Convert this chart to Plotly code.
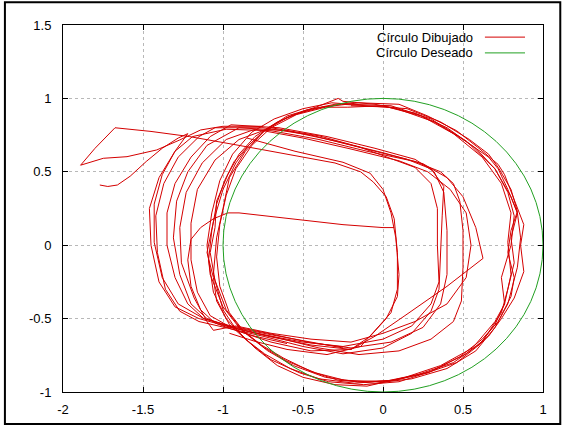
import plotly.graph_objects as go

# ---------------- data ----------------
x_tick_vals = [-2, -1.5, -1, -0.5, 0, 0.5, 1]
x_tick_text = ["-2", "-1.5", "-1", "-0.5", "0", "0.5", "1"]
y_tick_vals = [-1, -0.5, 0, 0.5, 1, 1.5]
y_tick_text = ["-1", "-0.5", "0", "0.5", "1", "1.5"]

series_names = ["Círculo Dibujado", "Círculo Deseado"]

# desired circle (centre, radius)
circle_center = (0.0, 0.0)
circle_radius = 1.0

# drawn trajectory, piece by piece
start_line = [(0.07, 0.12), (0.00, 0.12), (-0.25, 0.14), (-0.50, 0.17), (-0.75, 0.205),
              (-0.90, 0.22), (-0.97, 0.22), (-1.06, 0.18), (-1.14, 0.12), (-1.20, 0.04),
              (-1.22, -0.10), (-1.20, -0.28), (-1.14, -0.44), (-1.05, -0.53), (-0.95, -0.57),
              (-0.80, -0.62), (-0.60, -0.67)]

tip_loop = [(-0.75, 0.81), (-1.00, 0.81), (-1.14, 0.785), (-1.27, 0.717), (-1.414, 0.649),
            (-1.60, 0.603), (-1.748, 0.592), (-1.89, 0.545), (-1.80, 0.66), (-1.675, 0.80),
            (-1.45, 0.775), (-1.21, 0.74), (-0.90, 0.68), (-0.60, 0.62), (-0.30, 0.56),
            (-0.14, 0.50), (-0.06, 0.43), (0.02, 0.33), (0.07, 0.18), (0.09, -0.05),
            (0.09, -0.30), (0.05, -0.46), (-0.05, -0.58), (-0.14, -0.69), (-0.35, -0.745),
            (-0.60, -0.71), (-0.80, -0.655), (-0.96, -0.60)]

start_curl = [(-1.77, 0.41), (-1.72, 0.40), (-1.66, 0.41), (-1.58, 0.47), (-1.48, 0.57),
              (-1.38, 0.66), (-1.28, 0.73), (-1.22, 0.76), (-1.30, 0.64), (-1.38, 0.48),
              (-1.43, 0.28), (-1.43, 0.02), (-1.38, -0.22), (-1.28, -0.40), (-1.12, -0.50),
              (-0.95, -0.555), (-0.70, -0.61), (-0.45, -0.66), (-0.25, -0.70)]

inner_loop = [(-0.85, 0.73), (-0.55, 0.64), (-0.25, 0.565), (-0.08, 0.49), (0.00, 0.38),
              (0.05, 0.22), (0.08, 0.05), (0.10, -0.20), (0.09, -0.35), (0.02, -0.50),
              (-0.08, -0.62), (-0.20, -0.71), (-0.45, -0.72), (-0.70, -0.66), (-0.92, -0.58)]

outer_loop_1 = [(-1.19, 0.74), (-0.98, 0.79), (-0.70, 0.78), (-0.40, 0.72), (-0.10, 0.64),
                (0.20, 0.57), (0.36, 0.50), (0.44, 0.42), (0.48, 0.30), (0.50, 0.10),
                (0.50, -0.15), (0.49, -0.38), (0.44, -0.52), (0.30, -0.64), (0.10, -0.72),
                (-0.15, -0.745), (-0.40, -0.70), (-0.70, -0.62), (-0.95, -0.56), (-1.15, -0.50),
                (-1.30, -0.42), (-1.40, -0.25), (-1.45, 0.00), (-1.46, 0.25), (-1.40, 0.46),
                (-1.30, 0.64), (-1.19, 0.74)]

outer_loop_2 = [(-1.05, 0.80), (-0.75, 0.80), (-0.45, 0.75), (-0.15, 0.665), (0.15, 0.585),
                (0.30, 0.52), (0.38, 0.40), (0.37, 0.20), (0.36, -0.05), (0.35, -0.30),
                (0.30, -0.45), (0.18, -0.60), (0.00, -0.70), (-0.25, -0.74), (-0.50, -0.69),
                (-0.75, -0.62), (-0.95, -0.57), (-1.15, -0.52), (-1.27, -0.45), (-1.36, -0.30),
                (-1.41, -0.05), (-1.42, 0.20), (-1.37, 0.42), (-1.28, 0.60), (-1.15, 0.74),
                (-1.05, 0.80)]

outer_loop_3 = [(-0.95, 0.82), (-0.65, 0.80), (-0.35, 0.74), (-0.05, 0.66), (0.20, 0.585),
                (0.32, 0.50), (0.38, 0.36), (0.40, 0.10), (0.40, -0.20), (0.36, -0.40),
                (0.25, -0.56), (0.05, -0.66), (-0.20, -0.70), (-0.45, -0.665), (-0.72, -0.60),
                (-0.95, -0.55), (-1.12, -0.50), (-1.22, -0.40), (-1.30, -0.22), (-1.35, 0.00),
                (-1.35, 0.22), (-1.30, 0.42), (-1.20, 0.60), (-1.08, 0.74), (-0.95, 0.82)]

outer_loop_4 = [(-0.90, 0.80), (-0.60, 0.78), (-0.30, 0.71), (0.00, 0.63), (0.25, 0.555),
                (0.40, 0.46), (0.50, 0.33), (0.58, 0.12), (0.625, -0.09), (0.40, -0.28),
                (0.15, -0.47), (-0.05, -0.62), (-0.20, -0.71), (-0.45, -0.68), (-0.72, -0.62),
                (-0.95, -0.56), (-1.10, -0.50), (-1.20, -0.40), (-1.27, -0.20), (-1.31, 0.05),
                (-1.29, 0.30), (-1.22, 0.50), (-1.10, 0.68), (-0.90, 0.80)]

outer_loop_5 = [(-0.70, 0.80), (-0.40, 0.745), (-0.15, 0.67), (0.05, 0.59), (0.20, 0.53),
                (0.30, 0.42), (0.34, 0.25), (0.34, 0.00), (0.35, -0.25), (0.30, -0.40),
                (0.18, -0.55), (0.00, -0.64), (-0.25, -0.69), (-0.50, -0.66), (-0.75, -0.61),
                (-0.95, -0.56), (-1.08, -0.48), (-1.16, -0.32), (-1.20, -0.10), (-1.20, 0.15),
                (-1.16, 0.38), (-1.05, 0.58), (-0.90, 0.72), (-0.70, 0.80)]

outer_loop_6 = [(-0.80, 0.79), (-0.50, 0.73), (-0.20, 0.655), (0.10, 0.575), (0.28, 0.50),
                (0.42, 0.38), (0.52, 0.22), (0.55, 0.00), (0.52, -0.22), (0.40, -0.40),
                (0.20, -0.52), (0.00, -0.60), (-0.20, -0.66), (-0.45, -0.64), (-0.70, -0.60),
                (-0.92, -0.55), (-1.06, -0.58), (-1.10, -0.52), (-1.18, -0.36), (-1.26, -0.12),
                (-1.27, 0.12), (-1.23, 0.36), (-1.13, 0.56), (-0.98, 0.72), (-0.80, 0.79)]

main_loop_1 = [(-0.20, 0.96), (0.05, 0.95), (0.30, 0.86), (0.52, 0.71), (0.70, 0.52),
               (0.80, 0.33), (0.84, 0.22), (0.86, 0.05), (0.84, -0.15), (0.78, -0.40),
               (0.70, -0.56), (0.58, -0.72), (0.40, -0.84), (0.18, -0.91), (-0.05, -0.94),
               (-0.28, -0.92), (-0.45, -0.86), (-0.62, -0.77), (-0.76, -0.68), (-0.90, -0.56),
               (-1.00, -0.42), (-1.08, -0.20), (-1.10, 0.00), (-1.07, 0.22), (-1.02, 0.44),
               (-0.94, 0.62), (-0.82, 0.77), (-0.68, 0.86), (-0.50, 0.93), (-0.32, 0.97),
               (-0.20, 0.96)]

main_loop_2 = [(-0.20, 0.95), (0.06, 0.94), (0.32, 0.84), (0.50, 0.72), (0.66, 0.60),
               (0.72, 0.52), (0.78, 0.38), (0.84, 0.22), (0.80, 0.05), (0.82, -0.12),
               (0.78, -0.30), (0.74, -0.46), (0.62, -0.66), (0.44, -0.80), (0.22, -0.88),
               (0.00, -0.93), (-0.24, -0.92), (-0.42, -0.87), (-0.60, -0.79), (-0.74, -0.70),
               (-0.88, -0.58), (-0.98, -0.44), (-1.05, -0.24), (-1.08, -0.05), (-1.05, 0.12),
               (-1.04, 0.30), (-0.97, 0.48), (-0.90, 0.62), (-0.80, 0.74), (-0.66, 0.84),
               (-0.48, 0.92), (-0.30, 0.96), (-0.18, 0.97)]

main_loop_3 = [(-0.15, 0.97), (0.10, 0.96), (0.28, 0.88), (0.46, 0.78), (0.60, 0.66),
               (0.72, 0.55), (0.76, 0.48), (0.84, 0.26), (0.88, 0.14), (0.86, 0.00),
               (0.88, -0.18), (0.82, -0.36), (0.74, -0.50), (0.66, -0.62), (0.52, -0.74),
               (0.30, -0.86), (0.10, -0.93), (-0.12, -0.95), (-0.34, -0.93), (-0.52, -0.87),
               (-0.70, -0.78), (-0.84, -0.66), (-0.96, -0.54), (-1.04, -0.38), (-1.06, -0.22),
               (-1.10, -0.05), (-1.06, 0.16), (-1.00, 0.38), (-0.92, 0.56), (-0.84, 0.68),
               (-0.72, 0.80), (-0.56, 0.89), (-0.38, 0.94), (-0.15, 0.97)]

main_loop_4 = [(-0.22, 0.94), (0.00, 0.95), (0.24, 0.88), (0.44, 0.76), (0.62, 0.60),
               (0.74, 0.42), (0.80, 0.22), (0.78, 0.02), (0.80, -0.20), (0.76, -0.40),
               (0.70, -0.54), (0.60, -0.68), (0.46, -0.80), (0.30, -0.86), (0.08, -0.92),
               (-0.16, -0.93), (-0.36, -0.90), (-0.56, -0.82), (-0.72, -0.72), (-0.86, -0.60),
               (-0.96, -0.46), (-1.02, -0.28), (-1.04, -0.08), (-1.02, 0.14), (-0.98, 0.34),
               (-0.92, 0.52), (-0.82, 0.68), (-0.70, 0.80), (-0.54, 0.89), (-0.36, 0.94),
               (-0.22, 0.94)]

main_loop_5 = [(-0.25, 0.98), (-0.05, 0.96), (0.20, 0.90), (0.40, 0.80), (0.58, 0.66),
               (0.70, 0.52), (0.78, 0.36), (0.82, 0.20), (0.80, 0.00), (0.74, -0.22),
               (0.76, -0.40), (0.70, -0.52), (0.56, -0.70), (0.36, -0.82), (0.14, -0.90),
               (-0.10, -0.96), (-0.30, -0.95), (-0.50, -0.90), (-0.66, -0.82), (-0.80, -0.70),
               (-0.92, -0.57), (-1.00, -0.44), (-1.06, -0.20), (-1.04, 0.05), (-1.00, 0.25),
               (-0.96, 0.46), (-0.86, 0.64), (-0.74, 0.78), (-0.60, 0.88), (-0.42, 0.94),
               (-0.28, 1.00), (-0.25, 0.98)]

main_loop_6 = [(-0.10, 0.95), (0.15, 0.93), (0.36, 0.84), (0.54, 0.72), (0.66, 0.62),
               (0.72, 0.53), (0.80, 0.38), (0.84, 0.23), (0.80, 0.10), (0.78, -0.05),
               (0.82, -0.22), (0.80, -0.35), (0.72, -0.52), (0.62, -0.64), (0.48, -0.76),
               (0.28, -0.87), (0.06, -0.92), (-0.18, -0.94), (-0.40, -0.91), (-0.58, -0.84),
               (-0.74, -0.74), (-0.86, -0.64), (-0.98, -0.50), (-1.06, -0.32), (-1.09, -0.10),
               (-1.07, 0.10), (-1.04, 0.28), (-0.99, 0.44), (-0.93, 0.57), (-0.84, 0.68),
               (-0.74, 0.78), (-0.60, 0.87), (-0.44, 0.93), (-0.26, 0.96), (-0.10, 0.95)]

drawn_pieces = [start_line, tip_loop, start_curl, inner_loop,
                outer_loop_1, outer_loop_2, outer_loop_3, outer_loop_4, outer_loop_5, outer_loop_6,
                main_loop_1, main_loop_2, main_loop_3, main_loop_4, main_loop_5, main_loop_6]

# ---------------- build ----------------
drawn_x, drawn_y = [], []
for piece in drawn_pieces:
    for px, py in piece:
        drawn_x.append(px)
        drawn_y.append(py)
    drawn_x.append(None)
    drawn_y.append(None)

RED = "#d40000"
GREEN = "#22a022"
FONT = "Liberation Sans, Arial, sans-serif"

fig = go.Figure()
fig.add_trace(go.Scatter(x=drawn_x, y=drawn_y, mode="lines", name=series_names[0],
                         line=dict(color=RED, width=1), connectgaps=False,
                         showlegend=False, hoverinfo="skip"))

cx, cy = circle_center
shapes = [
    dict(type="circle", xref="x", yref="y",
         x0=cx - circle_radius, x1=cx + circle_radius,
         y0=cy - circle_radius, y1=cy + circle_radius,
         line=dict(color=GREEN, width=1), layer="above"),
    # legend samples
    dict(type="line", xref="paper", yref="paper", x0=0.879, x1=0.9625, y0=0.967, y1=0.967,
         line=dict(color=RED, width=1)),
    dict(type="line", xref="paper", yref="paper", x0=0.879, x1=0.9625, y0=0.924, y1=0.924,
         line=dict(color=GREEN, width=1)),
    # outer frame of the picture
    dict(type="rect", xref="paper", yref="paper", x0=-0.121, x1=1.036, y0=-0.087, y1=1.062,
         line=dict(color="black", width=2)),
]

annotations = [
    dict(x=0.858, y=0.967, xref="paper", yref="paper", text=series_names[0], showarrow=False,
         xanchor="right", yanchor="middle", font=dict(family=FONT, size=13, color="black")),
    dict(x=0.858, y=0.924, xref="paper", yref="paper", text=series_names[1], showarrow=False,
         xanchor="right", yanchor="middle", font=dict(family=FONT, size=13, color="black")),
]

axis_common = dict(showgrid=True, gridcolor="#b8b8b8", griddash="dot", gridwidth=1,
                   showline=True, linecolor="black", linewidth=1, mirror="allticks",
                   ticks="inside", ticklen=5, tickcolor="black", zeroline=False,
                   tickfont=dict(family=FONT, size=13, color="black"))

fig.update_layout(
    width=564, height=428,
    margin=dict(l=63, r=21, t=25, b=36),
    paper_bgcolor="white", plot_bgcolor="white",
    xaxis=dict(range=[-2, 1], tickvals=x_tick_vals, ticktext=x_tick_text,
               ticklabelstandoff=5, **axis_common),
    yaxis=dict(range=[-1, 1.5], tickvals=y_tick_vals, ticktext=y_tick_text,
               ticklabelstandoff=8, **axis_common),
    shapes=shapes, annotations=annotations,
    font=dict(family=FONT, size=13, color="black"),
    showlegend=False,
)

fig.write_html("out.html")
